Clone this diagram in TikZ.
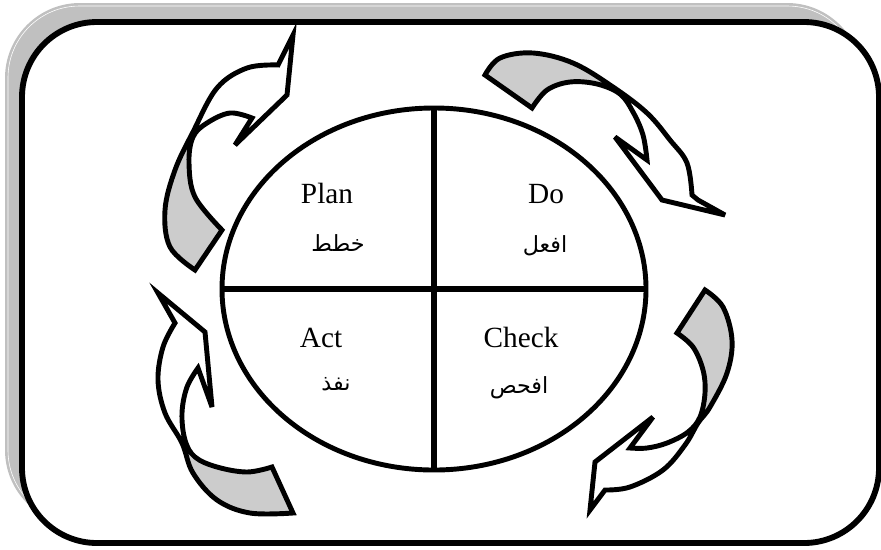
\documentclass[tikz,border=0pt]{standalone}
\usepackage{fontspec}
\setmainfont{Liberation Serif}
\newfontfamily\arabicfont[Script=Arabic]{DejaVu Sans}
\TeXXeTstate=1
\usetikzlibrary{shapes.geometric}
\definecolor{shadowgray}{RGB}{192,192,192}
\definecolor{ribbongray}{RGB}{204,204,204}
\tikzset{
  ribbonline/.style={draw=black, line width=4.2pt, line join=miter, miter limit=6},
  latinlabel/.style={font=\fontsize{25}{30}\selectfont, anchor=base, inner sep=0pt},
  arabiclabel/.style={font=\arabicfont\fontsize{19}{22}\selectfont, inner sep=0pt},
}
\newcommand\ribbonOne{plot[smooth, tension=0.6] coordinates {(195,270)(170,247)(165,210)(175,170)(193,132)(217,88)(247,68)(278,65)}
  -- (293,35) -- (287,95) -- (235,145) -- (252,118)
  -- plot[smooth, tension=0.6] coordinates {(252,118)(230,113)(207,123)(193,137)(189,163)(195,197)(222,230)} -- cycle}
\newcommand\ribbonTwo{plot[smooth, tension=0.6] coordinates {(485,75)(500,58)(533,53)(573,63)(613,87)(647,113)(670,140)(687,163)(692,195)}
  -- (698,200) -- (725,215) -- (662,200) -- (615,137) -- (647,160)
  -- plot[smooth, tension=0.6] coordinates {(647,160)(643,135)(633,112)(620,94)(597,84)(570,82)(547,90)(532,108)} -- cycle}
\newcommand\ribbonThree{plot[smooth, tension=0.6] coordinates {(705,290)(723,307)(732,340)(727,373)(710,407)(698,423)(685,445)(663,470)(630,487)(605,490)}
  -- (590,510) -- (595,462) -- (653,417) -- (630,448)
  -- plot[smooth, tension=0.6] coordinates {(630,448)(647,448)(667,443)(688,432)(700,417)(705,393)(703,370)(693,347)(677,333)} -- cycle}
\newcommand\ribbonFour{plot[smooth, tension=0.6] coordinates {(293,513)(250,513)(217,500)(193,473)(182,443)(165,413)(158,380)(163,347)(175,323)}
  -- (158,293) -- (205,332) -- (212,407) -- (198,368)
  -- plot[smooth, tension=0.6] coordinates {(198,368)(187,387)(182,413)(185,440)(195,457)(217,467)(247,472)(272,467)} -- cycle}
\begin{document}
\begin{tikzpicture}[x=0.03cm, y=-0.03cm]
\useasboundingbox (0,0) rectangle (881,549);
% frame shadow
\fill[shadowgray, rounded corners=2.25cm] (5,3) rectangle (862,525);
\draw[white, line width=0.5pt, rounded corners=2.15cm] (8,6) rectangle (859,522);
% frame
\draw[line width=5pt, fill=white, rounded corners=2.25cm] (22,22) rectangle (879,543);

% ellipse with quadrants
\node[ellipse, draw, line width=4.2pt, minimum width=12.72cm, minimum height=10.86cm, inner sep=0pt, outer sep=0pt] (E) at (434,289) {};
\draw[line width=4.6pt] (E.north) -- (E.south);
\draw[line width=4.6pt] (E.west) -- (E.east);

% labels
\node[latinlabel] (plan) at (327,203) {Plan};
\node[latinlabel] (do) at (546,203) {Do};
\node[latinlabel] (act) at (321,347) {Act};
\node[latinlabel] (check) at (521,347) {Check};
\node[arabiclabel] (planar) at (338,243) {\beginR خطط\endR};
\node[arabiclabel] (doar) at (545,246) {\beginR افعل\endR};
\node[arabiclabel] (actar) at (336,384) {\beginR نفذ\endR};
\node[arabiclabel] (checkar) at (519,388) {\beginR افحص\endR};

% arrow 1 (top left)
\fill[white] \ribbonOne;
\begin{scope}
  \clip (100,140) -- (205,140) -- (260,300) -- (100,300) -- cycle;
  \fill[ribbongray] \ribbonOne;
\end{scope}
\draw[ribbonline] \ribbonOne;

% arrow 2 (top right)
\fill[white] \ribbonTwo;
\begin{scope}
  \clip (400,0) rectangle (621,125);
  \fill[ribbongray] \ribbonTwo;
\end{scope}
\draw[ribbonline] \ribbonTwo;

% arrow 3 (bottom right)
\fill[white] \ribbonThree;
\begin{scope}
  \clip (660,250) rectangle (800,421);
  \fill[ribbongray] \ribbonThree;
\end{scope}
\draw[ribbonline] \ribbonThree;

% arrow 4 (bottom left)
\fill[white] \ribbonFour;
\begin{scope}
  \clip (100,443) rectangle (320,560);
  \fill[ribbongray] \ribbonFour;
\end{scope}
\draw[ribbonline] \ribbonFour;
\end{tikzpicture}
\end{document}
